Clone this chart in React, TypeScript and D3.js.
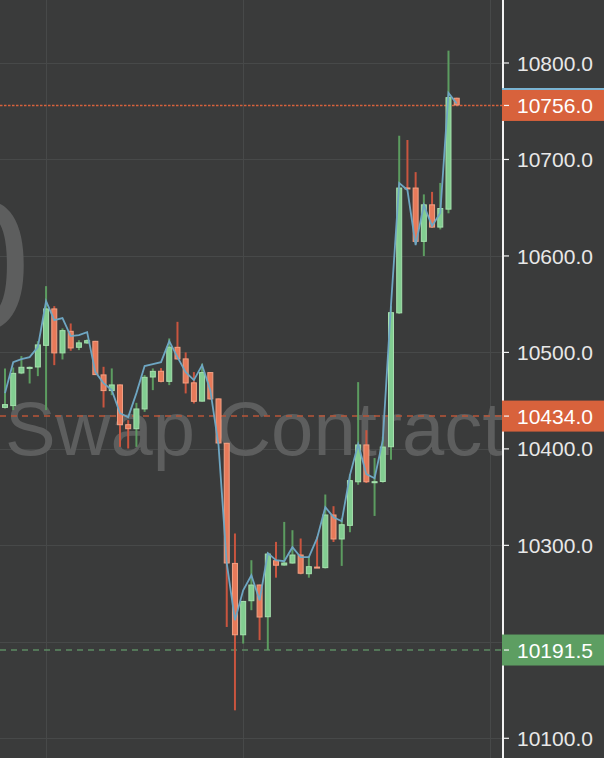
import React from "react";
import * as d3 from "d3";

const W = 604;
const H = 758;

// OHLC (candle index 0..55)
const opens = [
  10442.5, 10444.3, 10478.2, 10484.4, 10484.4, 10506.8, 10545.6, 10499.0, 10522.4, 10504.8,
  10509.3, 10512.0, 10477.2, 10459.9, 10466.8, 10425.6, 10420.4, 10440.9, 10474.0, 10481.0,
  10469.5, 10505.8, 10493.8, 10469.0, 10449.0, 10479.6, 10452.3, 10406.3, 10281.8, 10206.8,
  10242.1, 10259.4, 10225.5, 10284.6, 10279.1, 10281.2, 10290.5, 10270.1, 10278.0, 10276.4,
  10332.0, 10306.1, 10320.2, 10365.4, 10404.6, 10365.5, 10365.7, 10401.7, 10540.5, 10671.0,
  10670.9, 10614.6, 10653.5, 10629.4, 10648.0, 10764.0,
];
const closes = [
  10446.4, 10478.8, 10485.1, 10485.0, 10508.3, 10545.6, 10499.0, 10523.1, 10504.1, 10510.4,
  10512.7, 10476.5, 10459.9, 10466.8, 10424.6, 10420.4, 10441.9, 10474.7, 10480.9, 10469.5,
  10506.0, 10492.7, 10467.8, 10448.8, 10479.6, 10451.3, 10405.6, 10281.2, 10206.8, 10242.4,
  10259.4, 10225.2, 10291.5, 10278.9, 10282.2, 10290.5, 10270.6, 10278.4, 10277.5, 10332.0,
  10306.1, 10321.9, 10367.6, 10404.6, 10365.4, 10366.5, 10402.4, 10541.7, 10670.9, 10670.0,
  10614.6, 10653.5, 10629.4, 10649.7, 10764.6, 10756.0,
];
const highs = [
  10483.4, 10484.4, 10496.2, 10485.4, 10511.7, 10568.7, 10548.0, 10524.9, 10530.0, 10512.7,
  10513.5, 10512.0, 10485.1, 10483.4, 10466.8, 10429.8, 10447.7, 10476.5, 10483.4, 10483.7,
  10514.5, 10531.7, 10500.0, 10479.6, 10488.4, 10479.6, 10452.3, 10406.3, 10312.3, 10242.4,
  10284.6, 10259.4, 10292.6, 10303.6, 10324.3, 10315.7, 10307.1, 10288.7, 10309.1, 10352.7,
  10340.6, 10328.2, 10373.8, 10469.2, 10419.4, 10390.5, 10412.7, 10548.0, 10724.6, 10720.2,
  10686.9, 10663.8, 10666.4, 10675.7, 10812.8, 10764.0,
];
const lows = [
  10441.9, 10440.2, 10477.5, 10467.8, 10475.4, 10440.2, 10486.8, 10492.7, 10501.7, 10502.4,
  10509.0, 10476.5, 10442.9, 10455.7, 10402.1, 10400.4, 10402.1, 10438.4, 10460.9, 10469.0,
  10466.1, 10492.7, 10457.5, 10447.1, 10449.0, 10451.0, 10405.0, 10215.4, 10129.0, 10198.2,
  10232.8, 10201.8, 10191.5, 10266.5, 10279.0, 10281.0, 10270.0, 10266.5, 10277.0, 10276.0,
  10303.5, 10278.7, 10313.6, 10362.8, 10364.6, 10330.5, 10365.0, 10388.7, 10540.0, 10670.0,
  10614.0, 10599.9, 10629.0, 10627.5, 10644.2, 10756.0,
];
// moving-average line
const maValues = [
  10457.8, 10489.9, 10493.0, 10495.1, 10505.5, 10553.2, 10533.5, 10535.6, 10516.9, 10518.0,
  10521.0, 10479.6, 10468.2, 10460.9, 10437.0, 10432.9, 10457.8, 10485.8, 10487.9, 10489.9,
  10511.7, 10495.1, 10479.6, 10471.3, 10486.8, 10460.9, 10403.9, 10281.5, 10222.4, 10253.5,
  10269.0, 10243.1, 10291.9, 10284.6, 10283.6, 10298.1, 10287.7, 10287.7, 10307.4, 10339.6,
  10329.2, 10325.0, 10372.8, 10404.9, 10373.8, 10369.6, 10409.1, 10549.0, 10675.6, 10668.3,
  10611.3, 10652.7, 10631.0, 10644.5, 10768.9, 10758.0,
];

const yTicks = [10100, 10200, 10300, 10400, 10500, 10600, 10700, 10800];
const lastPrice = 10756.0;
const markPrice = 10434.0;
const liqPrice = 10191.5;
const watermarkText = "Swap Contract";
const watermarkTop = "0";

const BG = "#3a3b3b";
const GRID = "#474949";
const UP_FILL = "#82cd91";
const UP_STROKE = "#a6e0ae";
const UP_WICK = "#5c9c60";
const DN_FILL = "#e77a5a";
const DN_STROKE = "#f2a184";
const DN_WICK = "#c9553f";
const RED_BOX = "#d8623c";
const GREEN_BOX = "#5d9e62";
const MA_COLOR = "#6ea6c2";
const FONT = "'Liberation Sans', Arial, Helvetica, sans-serif";

export default function App() {
  const axisX = 503;
  const y = d3.scaleLinear().domain([10100, 10800]).range([738.3, 63]);
  const idx = d3.range(opens.length);
  const x = d3.scaleLinear().domain([0, opens.length - 1]).range([5, 456.7]);
  const bodyW = 6;
  const crisp = (v: number) => Math.round(v) + 0.5;

  const maLine = d3
    .line<number>()
    .x((i) => x(i))
    .y((i) => y(maValues[i]));

  const label = (v: number, fill: string, key: string) => {
    const cy = y(v);
    return (
      <g key={key}>
        <rect x={axisX - 1} y={cy - 15.5} width={W - axisX + 1} height={31} fill={fill} />
        <line x1={axisX + 1} x2={axisX + 6} y1={cy} y2={cy} stroke="#f4f4f4" strokeWidth={1.2} />
        <text x={517} y={cy} dy="0.36em" fill="#ffffff" fontSize={21} fontFamily={FONT}>
          {v.toFixed(1)}
        </text>
      </g>
    );
  };

  return (
    <svg
      width={W}
      height={H}
      style={{ position: "fixed", left: 0, top: 0, display: "block" }}
    >
      <rect x={0} y={0} width={W} height={H} fill={BG} />
      {/* grid */}
      {yTicks.map((t) => (
        <line key={"g" + t} x1={0} x2={axisX} y1={crisp(y(t))} y2={crisp(y(t))} stroke={GRID} strokeWidth={1} />
      ))}
      {[x(5), x(29), 490].map((gx, i) => (
        <line key={"vg" + i} x1={crisp(gx)} x2={crisp(gx)} y1={0} y2={H} stroke={GRID} strokeWidth={1} />
      ))}
      {/* watermark */}
      <text x={31} y={330} textAnchor="end" fontSize={188} fontFamily={FONT} fill="#5d5e5e">
        {watermarkTop}
      </text>
      <text x={5} y={455} fontSize={76} fontFamily={FONT} fill="#5d5e5e">
        {watermarkText}
      </text>
      {/* price lines */}
      <line x1={0} x2={axisX} y1={y(lastPrice)} y2={y(lastPrice)} stroke={RED_BOX} strokeWidth={1.4} strokeDasharray="2.5,1.5" />
      <line x1={0} x2={axisX} y1={y(markPrice)} y2={y(markPrice)} stroke="#b95638" strokeWidth={1.5} strokeDasharray="6,5" />
      <line x1={0} x2={axisX} y1={y(liqPrice)} y2={y(liqPrice)} stroke="#5c8a63" strokeWidth={1.5} strokeDasharray="6,5" />
      {/* candles */}
      {idx.map((i) => {
        const up = closes[i] >= opens[i];
        const cx = x(i);
        const top = y(Math.max(opens[i], closes[i]));
        const bot = y(Math.min(opens[i], closes[i]));
        const h = Math.max(bot - top, 2);
        return (
          <g key={"c" + i}>
            <line
              x1={cx}
              x2={cx}
              y1={y(highs[i])}
              y2={y(lows[i])}
              stroke={up ? UP_WICK : DN_WICK}
              strokeWidth={2}
            />
            <rect
              x={cx - bodyW / 2 + 0.5}
              y={top + 0.5}
              width={bodyW - 1}
              height={Math.max(h - 1, 1)}
              fill={up ? UP_FILL : DN_FILL}
              stroke={up ? UP_STROKE : DN_STROKE}
              strokeWidth={1}
            />
          </g>
        );
      })}
      {/* MA line */}
      <path d={maLine(idx) || ""} fill="none" stroke={MA_COLOR} strokeWidth={1.8} />
      {/* axis */}
      <line x1={axisX} x2={axisX} y1={0} y2={H} stroke="#f2f2f2" strokeWidth={2} />
      {yTicks.map((t) => (
        <g key={"t" + t}>
          <line x1={axisX + 1} x2={axisX + 6} y1={y(t)} y2={y(t)} stroke="#f2f2f2" strokeWidth={1.2} />
          <text x={517} y={y(t)} dy="0.36em" fill="#e8e8e8" fontSize={21} fontFamily={FONT}>
            {t.toFixed(1)}
          </text>
        </g>
      ))}
      {/* MA value box, mostly covered */}
      <rect x={axisX - 1} y={y(maValues[maValues.length - 1]) - 15.5} width={W - axisX + 1} height={31} fill="#7ab8d8" />
      {label(lastPrice, RED_BOX, "lp")}
      {label(markPrice, RED_BOX, "mp")}
      {label(liqPrice, GREEN_BOX, "lq")}
    </svg>
  );
}
